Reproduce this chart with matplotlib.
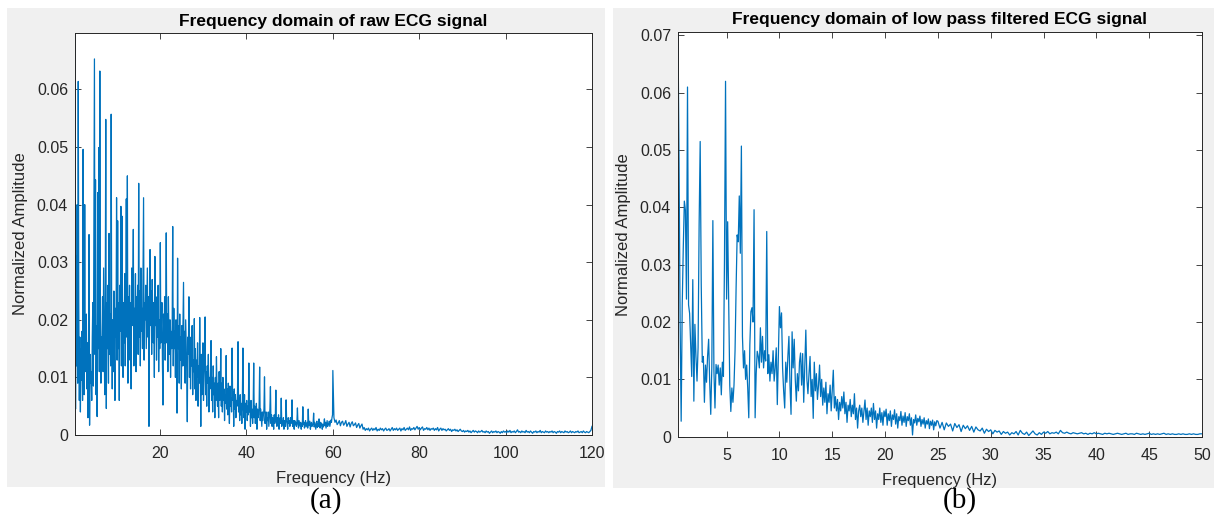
import numpy as np
import matplotlib
matplotlib.use("Agg")
import matplotlib.pyplot as plt
from matplotlib.patches import Rectangle

# ---------------- data (amplitudes in units of 1e-4) ----------------
# Panel (a): raw ECG spectrum, 0.3 .. 59.925 Hz with 0.125 Hz bins
raw_f0_lo, raw_df_lo = 0.3, 0.125
raw_amp_lo = [
    698, 45, 310, 120, 400, 90, 614, 230, 60, 170,
    40, 150, 95, 180, 60, 496, 130, 70, 400, 110,
    150, 210, 80, 160, 30, 120, 348, 17, 140, 90,
    110, 60, 170, 230, 85, 350, 653, 140, 443, 70,
    190, 32, 421, 150, 499, 110, 632, 200, 90, 170,
    160, 240, 110, 290, 180, 70, 210, 548, 46, 230,
    150, 260, 90, 350, 140, 210, 120, 557, 170, 80,
    200, 110, 250, 140, 60, 220, 170, 412, 130, 372,
    150, 230, 60, 260, 180, 397, 120, 380, 200, 100,
    230, 160, 280, 120, 210, 410, 170, 450, 90, 240,
    180, 260, 130, 230, 80, 290, 190, 240, 357, 120,
    220, 160, 280, 110, 240, 190, 260, 140, 437, 170,
    250, 120, 290, 180, 220, 150, 270, 412, 130, 230,
    200, 260, 150, 220, 290, 170, 240, 15, 210, 322,
    190, 250, 140, 270, 200, 160, 230, 100, 310, 190,
    240, 130, 210, 170, 260, 110, 200, 150, 334, 160,
    190, 230, 120, 52, 210, 160, 240, 130, 190, 351,
    160, 210, 110, 240, 170, 140, 200, 100, 180, 150,
    190, 362, 120, 220, 150, 180, 100, 200, 140, 38,
    307, 150, 190, 90, 210, 130, 170, 80, 190, 120,
    190, 265, 120, 180, 90, 200, 150, 110, 23, 170,
    140, 240, 100, 170, 80, 150, 120, 190, 70, 130,
    110, 202, 80, 150, 60, 130, 100, 160, 50, 120,
    90, 204, 120, 15, 140, 70, 110, 160, 60, 100,
    130, 205, 70, 110, 50, 120, 90, 140, 40, 100,
    80, 110, 164, 60, 100, 40, 120, 70, 90, 30,
    100, 60, 136, 80, 50, 90, 30, 110, 60, 70,
    150, 50, 90, 40, 100, 60, 80, 25, 70, 55,
    138, 45, 80, 35, 90, 60, 20, 85, 50, 65,
    40, 151, 60, 75, 15, 80, 45, 70, 30, 60,
    50, 75, 162, 40, 65, 25, 70, 35, 55, 20,
    60, 151, 45, 30, 70, 10, 55, 40, 60, 25,
    50, 35, 125, 40, 55, 15, 60, 30, 45, 20,
    45, 125, 30, 50, 20, 40, 55, 10, 45, 30,
    35, 50, 118, 25, 45, 30, 15, 40, 25, 35,
    45, 101, 20, 35, 40, 10, 30, 25, 40, 15,
    30, 45, 84, 20, 35, 15, 30, 25, 10, 35,
    20, 30, 78, 25, 15, 30, 20, 35, 10, 25,
    30, 20, 64, 15, 25, 20, 30, 10, 25, 20,
    15, 61, 25, 20, 10, 30, 20, 25, 15, 30,
    20, 25, 61, 15, 25, 20, 10, 25, 18, 22,
    15, 22, 47, 18, 12, 25, 20, 15, 22, 10,
    20, 15, 49, 18, 22, 12, 20, 25, 14, 18,
    22, 12, 45, 16, 20, 24, 10, 18, 22, 15,
    18, 20, 38, 14, 22, 16, 10, 20, 24, 13,
    20, 15, 28, 18, 12, 22, 16, 20, 10, 18,
    14, 20, 28, 16, 22, 12, 18, 25, 15, 20,
    18, 24, 15, 20, 26, 22, 30, 35,
]
# Panel (a): 60 .. 120 Hz with 0.25 Hz bins
raw_f0_hi, raw_df_hi = 60.0, 0.25
raw_amp_hi = [
    112, 30, 22, 26, 18, 21, 25, 16, 22, 24, 17, 20, 25, 15, 19, 22, 14, 20, 23, 16, 18, 21, 13, 17, 20, 12, 16, 19,
    10, 13, 8, 11, 9, 12, 7, 10, 12, 8, 11, 9, 13, 7, 10, 8, 12, 9, 11, 7, 10, 12, 8, 9, 11, 7, 10, 13, 8, 11, 9, 12,
    8, 10, 12, 7, 11, 9, 13, 8, 10, 12, 9, 14, 8, 11, 10, 13, 9, 12, 15, 10, 13, 9, 12, 14, 8, 11, 10, 13, 9, 12, 8, 11,
    10, 12, 8, 11, 9, 13, 7, 10, 12, 8, 11, 9, 10, 7, 9, 11, 8, 10, 6, 9, 8, 10, 7, 9, 6, 8, 10, 7,
    6, 8, 5, 7, 6, 8, 5, 7, 4, 6, 8, 5, 7, 6, 4, 7, 5, 6, 8, 5, 6, 4, 7, 5, 6, 3, 5, 7, 4, 6, 5, 7, 4, 6, 5, 3, 6, 4, 7, 5,
    6, 4, 7, 5, 8, 4, 6, 5, 7, 4, 6, 9, 5, 6, 4, 7, 5, 6, 4, 8, 5, 6, 4, 7, 5, 3, 6, 5, 7, 4, 6, 5, 8, 4, 6, 5, 4, 7, 5, 6,
    4, 6, 5, 7, 4, 6, 5, 3, 6, 5, 7, 4, 6, 5, 4, 7, 5, 6, 4, 5, 7, 4, 6, 5, 4, 6, 5, 7, 4, 5, 6, 4, 7, 5, 4, 6, 5, 4, 6, 8, 15,
]

# Panel (b): low-pass filtered spectrum, 0.4 .. 24.9 Hz with 0.1 Hz bins
lpf_f0_lo, lpf_df_lo = 0.4, 0.1
lpf_amp_lo = [
    706, 480, 200, 27, 230, 330, 411, 395, 240, 610,
    230, 215, 160, 105, 274, 62, 196, 140, 97, 155,
    370, 515, 265, 130, 140, 60, 125, 95, 140, 170,
    95, 39, 120, 377, 115, 50, 126, 110, 125, 90,
    120, 73, 130, 105, 310, 620, 240, 375, 225, 90,
    44, 85, 60, 90, 150, 260, 352, 340, 420, 320,
    507, 175, 120, 150, 100, 125, 85, 33, 160, 218,
    225, 200, 396, 33, 110, 149, 140, 120, 190, 130,
    175, 120, 150, 132, 358, 110, 143, 97, 130, 110,
    150, 97, 120, 155, 56, 140, 227, 190, 216, 120,
    80, 50, 130, 95, 140, 175, 90, 39, 183, 120,
    170, 100, 62, 110, 80, 130, 146, 90, 145, 60,
    120, 186, 100, 75, 110, 140, 70, 100, 32, 130,
    80, 110, 65, 90, 125, 70, 100, 55, 85, 60,
    95, 40, 75, 60, 90, 45, 80, 116, 50, 70,
    45, 65, 30, 60, 45, 70, 50, 78, 40, 60,
    25, 55, 45, 65, 35, 55, 40, 75, 30, 50,
    15, 45, 55, 35, 50, 25, 45, 64, 30, 50,
    20, 45, 35, 50, 25, 58, 30, 45, 15, 40,
    30, 50, 25, 42, 20, 45, 35, 48, 20, 40,
    28, 45, 18, 38, 30, 47, 22, 40, 15, 35,
    28, 44, 20, 36, 25, 42, 18, 35, 28, 40,
    20, 33, 3, 30, 24, 38, 20, 32, 26, 36,
    18, 30, 22, 33, 15, 28, 22, 31, 14, 27,
    20, 29, 12, 26, 19, 28,
]
# Panel (b): 25 .. 50 Hz with 0.2 Hz bins
lpf_f0_hi, lpf_df_hi = 25.0, 0.2
lpf_amp_hi = [
    27, 15, 25, 12, 24, 18, 22, 10, 23, 16, 21, 9, 20, 14, 19, 11, 18, 8, 17, 12,
    10, 15, 6, 13, 9, 12, 5, 11, 8, 10, 4, 9, 6, 8, 3,
    7, 5, 9, 3, 11, 6, 4, 8, 2, 6, 10, 5, 3, 7, 4,
    8, 6, 9, 5, 7, 6, 8, 5, 11, 7, 6, 8,
    6, 5, 7, 6, 5, 6, 7, 5, 6, 4, 6, 5, 7, 5, 6, 5, 4, 6, 5, 6, 5, 4, 5, 6, 5, 4, 5, 6, 4, 5, 5, 4,
    6, 5, 4, 5, 4, 5, 6, 4, 5, 4, 5, 4, 5, 6, 4, 5, 4, 5, 4, 4, 5, 4, 5, 4, 4, 5, 4, 5, 4, 4, 5, 5,
]

titles = ["Frequency domain of raw ECG signal",
          "Frequency domain of low pass filtered ECG signal"]
captions = ["(a)", "(b)"]
xlabel = "Frequency (Hz)"
ylabel = "Normalized Amplitude"
a_xticks = [20, 40, 60, 80, 100, 120]
a_yticks = [0, 0.01, 0.02, 0.03, 0.04, 0.05, 0.06]
b_xticks = [5, 10, 15, 20, 25, 30, 35, 40, 45, 50]
b_yticks = [0, 0.01, 0.02, 0.03, 0.04, 0.05, 0.06, 0.07]


def grid(f0, df, vals):
    return f0 + df * np.arange(len(vals))


raw_f = np.concatenate([grid(raw_f0_lo, raw_df_lo, raw_amp_lo),
                        grid(raw_f0_hi, raw_df_hi, raw_amp_hi)])
raw_a = np.array(raw_amp_lo + raw_amp_hi) * 1e-4
lpf_f = np.concatenate([grid(lpf_f0_lo, lpf_df_lo, lpf_amp_lo),
                        grid(lpf_f0_hi, lpf_df_hi, lpf_amp_hi)])
lpf_a = np.array(lpf_amp_lo + lpf_amp_hi) * 1e-4

# ---------------- figure ----------------
plt.rcParams["font.family"] = ["Liberation Sans", "DejaVu Sans"]
W, H = 1214, 520
fig = plt.figure(figsize=(W / 100, H / 100), dpi=100)
fig.patch.set_facecolor("white")


def px_rect(x0, y0, x1, y1):
    return (x0 / W, 1 - y1 / H, (x1 - x0) / W, (y1 - y0) / H)


GRAY = "#F0F0F0"
for (x0, y0, x1, y1) in [(7, 8, 605, 487), (613, 8, 1214, 488)]:
    fx, fy, fw, fh = px_rect(x0, y0, x1, y1)
    fig.patches.append(Rectangle((fx, fy), fw, fh, transform=fig.transFigure,
                                 facecolor=GRAY, edgecolor="none", zorder=-5))

axA = fig.add_axes(px_rect(75, 33, 592, 435))
axB = fig.add_axes(px_rect(678, 32, 1202, 436.7))
axA.set_zorder(2)
axB.set_zorder(2)

LINE = "#0072BD"
TXT = "#262626"


def style(ax, xt, yt, xlim, ylim, title, tpad):
    ax.set_xlim(*xlim)
    ax.set_ylim(*ylim)
    ax.set_xticks(xt)
    ax.set_yticks(yt)
    ax.set_yticklabels(["0" if v == 0 else f"{v:.2f}" for v in yt])
    ax.tick_params(direction="in", length=4, width=0.6, color=TXT,
                   labelsize=11.5, labelcolor=TXT, top=True, right=True)
    ax.tick_params(axis="x", pad=8)
    ax.tick_params(axis="y", pad=5)
    for s in ax.spines.values():
        s.set_color(TXT)
        s.set_linewidth(0.7)
    ax.set_title(title, fontsize=12.5, fontweight="bold", color="black", pad=tpad)
    ax.set_xlabel(xlabel, fontsize=12, color=TXT, labelpad=7)
    ax.set_ylabel(ylabel, fontsize=12, color=TXT, labelpad=6)
    ax.set_facecolor("white")


axA.plot(raw_f, raw_a, color=LINE, linewidth=0.9)
style(axA, a_xticks, a_yticks, (0.3, 120), (0, 0.0698), titles[0], 5)
axB.plot(lpf_f, lpf_a, color=LINE, linewidth=0.9)
style(axB, b_xticks, b_yticks, (0.4, 50), (0, 0.0706), titles[1], 6)

fig.text(326 / W, 1 - 501 / H, captions[0], ha="center", va="center",
         fontsize=21, family="Liberation Serif")
fig.text(960 / W, 1 - 501 / H, captions[1], ha="center", va="center",
         fontsize=21, family="Liberation Serif")

fig.savefig("out.png", dpi=100)
